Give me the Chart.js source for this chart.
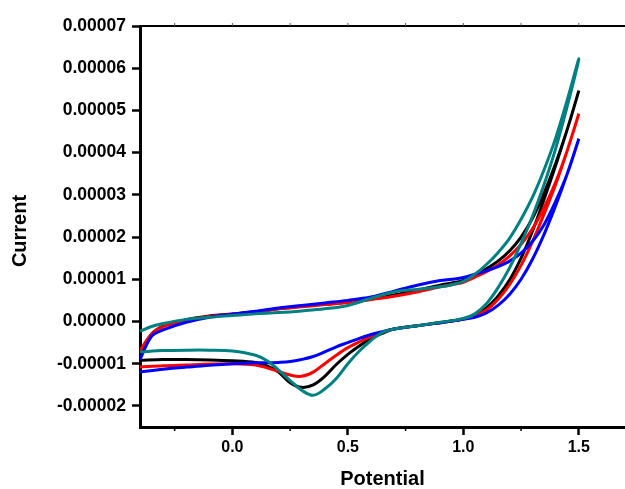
<!DOCTYPE html>
<html>
<head>
<meta charset="utf-8">
<script src="https://cdn.jsdelivr.net/npm/chart.js@4/dist/chart.umd.min.js"></script>
<style>
  html, body { margin: 0; padding: 0; background: #fff; }
  canvas { display: block; }
</style>
</head>
<body>
<canvas id="cvChart" width="625" height="489"></canvas>
<script>
// potentials (V) for the forward and return scans
const upperPotential = [-0.4, -0.35, -0.3, -0.2, -0.1, 0, 0.1, 0.2, 0.3, 0.4, 0.5, 0.6, 0.7, 0.8, 0.9, 0.95, 1.0, 1.05, 1.1, 1.15, 1.2, 1.25, 1.3, 1.35, 1.4, 1.45, 1.5];
const lowerPotential = [1.5, 1.45, 1.4, 1.35, 1.3, 1.25, 1.2, 1.15, 1.1, 1.05, 1.0, 0.95, 0.9, 0.8, 0.7, 0.65, 0.6, 0.55, 0.5, 0.45, 0.4, 0.35, 0.3, 0.25, 0.2, 0.15, 0.1, 0, -0.1, -0.2, -0.3, -0.4];

// currents, in units of 1e-5
const blackUpper = [-0.75, -0.3, -0.11, 0.04, 0.13, 0.18, 0.23, 0.3, 0.36, 0.41, 0.46, 0.53, 0.63, 0.74, 0.86, 0.91, 0.97, 1.1, 1.25, 1.43, 1.67, 2.0, 2.45, 3.05, 3.75, 4.55, 5.47];
const blackLower = [5.47, 4.55, 3.7, 2.9, 2.15, 1.5, 0.98, 0.6, 0.32, 0.15, 0.06, 0.01, -0.03, -0.1, -0.18, -0.28, -0.4, -0.58, -0.78, -1.02, -1.3, -1.5, -1.56, -1.45, -1.2, -1.05, -0.97, -0.93, -0.91, -0.9, -0.9, -0.92];
const redUpper = [-0.69, -0.3, -0.12, 0.02, 0.12, 0.17, 0.23, 0.3, 0.35, 0.4, 0.45, 0.52, 0.6, 0.7, 0.82, 0.87, 0.93, 1.05, 1.18, 1.34, 1.55, 1.83, 2.2, 2.7, 3.3, 4.05, 4.92];
const redLower = [4.92, 4.05, 3.25, 2.55, 1.9, 1.33, 0.87, 0.52, 0.27, 0.13, 0.06, 0.01, -0.03, -0.1, -0.18, -0.26, -0.36, -0.48, -0.62, -0.8, -1.0, -1.2, -1.3, -1.27, -1.18, -1.1, -1.03, -1.0, -1.01, -1.03, -1.05, -1.08];
const blueUpper = [-0.9, -0.35, -0.2, -0.02, 0.1, 0.17, 0.24, 0.32, 0.38, 0.44, 0.5, 0.58, 0.72, 0.86, 0.97, 1.0, 1.04, 1.12, 1.2, 1.3, 1.43, 1.62, 1.9, 2.3, 2.85, 3.5, 4.33];
const blueLower = [4.33, 3.5, 2.75, 2.07, 1.48, 1.0, 0.64, 0.38, 0.2, 0.1, 0.05, 0.01, -0.03, -0.1, -0.18, -0.24, -0.31, -0.4, -0.5, -0.6, -0.72, -0.83, -0.9, -0.95, -0.97, -0.98, -0.98, -1.0, -1.04, -1.08, -1.13, -1.2];
const tealUpper = [-0.23, -0.12, -0.05, 0.05, 0.1, 0.14, 0.18, 0.21, 0.25, 0.3, 0.38, 0.55, 0.7, 0.76, 0.82, 0.87, 0.95, 1.12, 1.35, 1.63, 1.97, 2.42, 2.95, 3.6, 4.35, 5.25, 6.22];
const tealLower = [6.22, 5.1, 4.1, 3.25, 2.5, 1.85, 1.27, 0.8, 0.42, 0.18, 0.07, 0.02, -0.02, -0.1, -0.18, -0.26, -0.45, -0.7, -1.0, -1.35, -1.6, -1.75, -1.63, -1.4, -1.15, -0.93, -0.8, -0.7, -0.68, -0.68, -0.69, -0.72];

const xMajorTicks = [0, 0.5, 1.0, 1.5];
const xMinorTicks = [-0.25, 0.25, 0.75, 1.25];
const yTicks = [-0.00002, -0.00001, 0, 0.00001, 0.00002, 0.00003, 0.00004, 0.00005, 0.00006, 0.00007];

const UNIT = 1e-5;
const FONT = "'Liberation Sans', Arial, sans-serif";

function loop(upper, lower) {
  const fwd = upperPotential.map((x, i) => ({ x, y: upper[i] * UNIT }));
  const back = lowerPotential.slice(1).map((x, i) => ({ x, y: lower[i + 1] * UNIT }));
  return fwd.concat(back);
}

// top frame line, top ticks, bottom minor ticks and the y title
const framePlugin = {
  id: 'frame',
  afterDraw(chart) {
    const { ctx, chartArea } = chart;
    const xs = chart.scales.x;
    ctx.save();
    ctx.strokeStyle = '#000';
    ctx.lineWidth = 2;
    ctx.beginPath();
    ctx.moveTo(chartArea.left, chartArea.top);
    ctx.lineTo(chartArea.right, chartArea.top);
    ctx.stroke();
    ctx.lineWidth = 1;
    ctx.strokeStyle = '#555';
    xMajorTicks.concat(xMinorTicks).forEach(v => {
      const px = xs.getPixelForValue(v);
      ctx.beginPath();
      ctx.moveTo(px, chartArea.top);
      ctx.lineTo(px, chartArea.top - 3);
      ctx.stroke();
    });
    ctx.strokeStyle = '#000';
    ctx.lineWidth = 1.5;
    xMinorTicks.forEach(v => {
      const px = xs.getPixelForValue(v);
      ctx.beginPath();
      ctx.moveTo(px, chartArea.bottom);
      ctx.lineTo(px, chartArea.bottom + 4);
      ctx.stroke();
    });

    ctx.translate(20, 231);
    ctx.rotate(-Math.PI / 2);
    ctx.fillStyle = '#000';
    ctx.font = 'bold 20px ' + FONT;
    ctx.textAlign = 'center';
    ctx.textBaseline = 'middle';
    ctx.fillText('Current', 0, 0);
    ctx.restore();
  }
};

new Chart(document.getElementById('cvChart'), {
  type: 'scatter',
  data: {
    datasets: [
      { label: 'teal', data: loop(tealUpper, tealLower), borderColor: '#008080' },
      { label: 'blue', data: loop(blueUpper, blueLower), borderColor: '#0000ff' },
      { label: 'red', data: loop(redUpper, redLower), borderColor: '#ff0000' },
      { label: 'black', data: loop(blackUpper, blackLower), borderColor: '#000000' }
    ].map(d => Object.assign(d, { showLine: true, fill: false, pointRadius: 0, borderWidth: 3, tension: 0.35 }))
  },
  options: {
    responsive: false,
    animation: false,
    layout: { padding: { top: 26, right: 0, bottom: 0, left: 0 } },
    plugins: { legend: { display: false }, tooltip: { enabled: false } },
    scales: {
      x: {
        type: 'linear',
        min: -0.4,
        max: 1.7,
        afterBuildTicks: s => { s.ticks = xMajorTicks.map(v => ({ value: v })); },
        afterFit: s => { s.height = 62; },
        grid: { drawOnChartArea: false, tickLength: 8, tickWidth: 2.5, tickColor: '#000' },
        border: { color: '#000', width: 3 },
        ticks: {
          color: '#000',
          padding: 3,
          font: { family: FONT, size: 16, weight: 'bold' },
          callback: v => Number(v).toFixed(1)
        },
        title: {
          display: true,
          text: 'Potential',
          color: '#000',
          padding: 0,
          font: { family: FONT, size: 20, weight: 'bold', lineHeight: 1 }
        }
      },
      y: {
        type: 'linear',
        min: -0.000025,
        max: 0.00007,
        afterBuildTicks: s => { s.ticks = yTicks.map(v => ({ value: v })); },
        afterFit: s => { s.width = 140; },
        grid: { drawOnChartArea: false, tickLength: 8, tickWidth: 2.5, tickColor: '#000' },
        border: { color: '#000', width: 3 },
        ticks: {
          color: '#000',
          padding: 6,
          font: { family: FONT, size: 17.5, weight: 'bold' },
          callback: v => Number(v).toFixed(5)
        },
        title: { display: false }
      }
    }
  },
  plugins: [framePlugin]
});
</script>
</body>
</html>
